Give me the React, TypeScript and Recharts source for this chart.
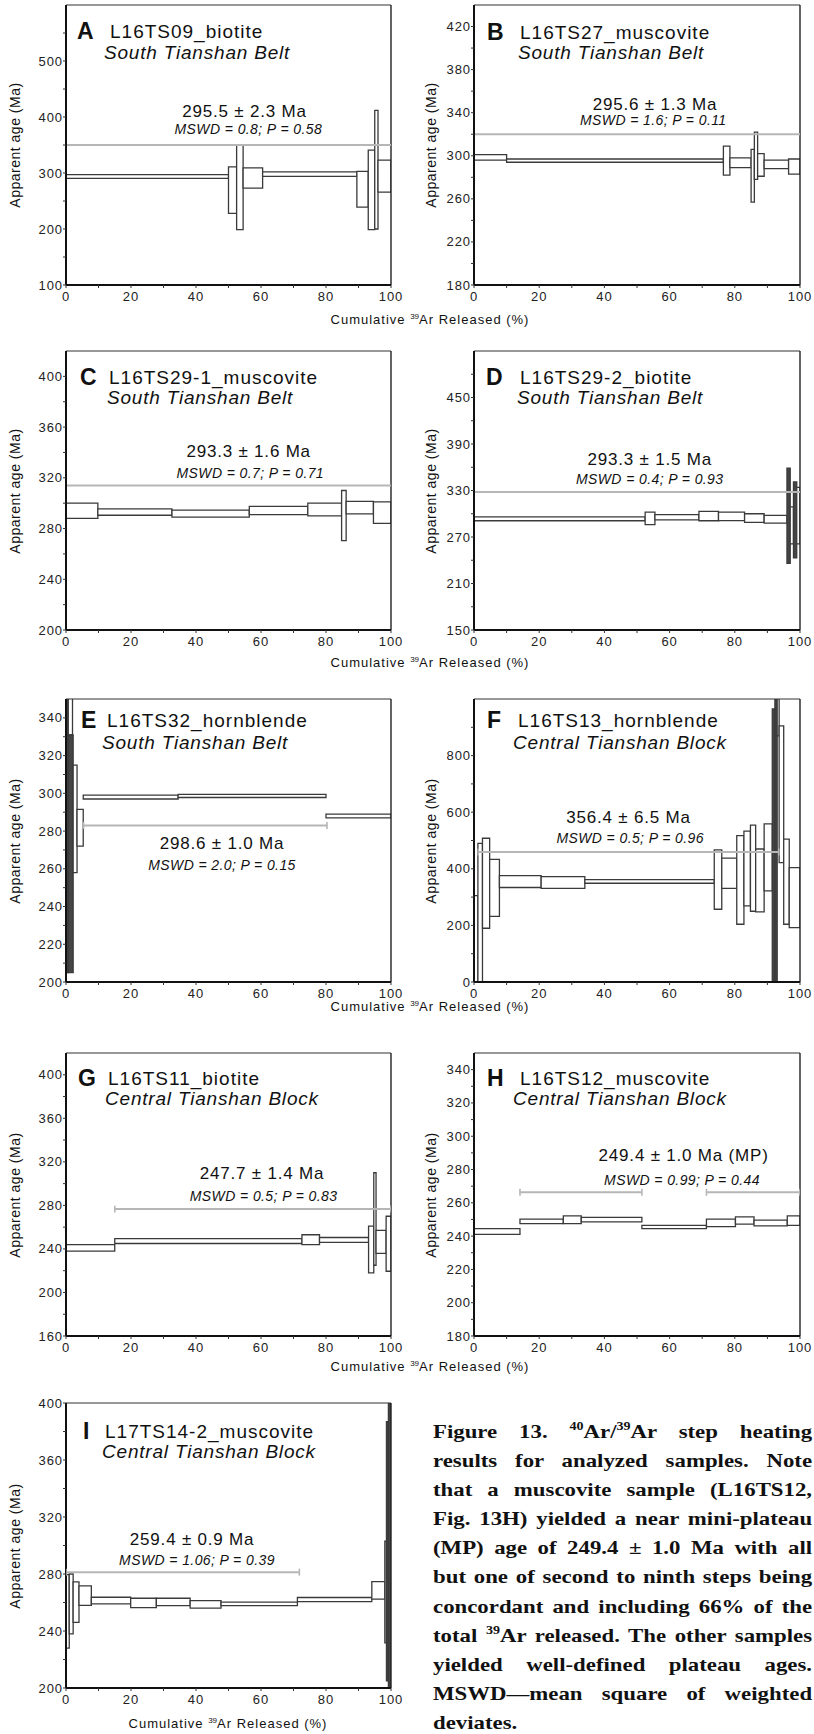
import React from "react";
import { ComposedChart, Line, ReferenceArea, ReferenceDot, ReferenceLine, XAxis, YAxis } from "recharts";

const FONT = '"Liberation Sans", Arial, Helvetica, sans-serif';
const SERIF = '"Liberation Serif", "Times New Roman", serif';

// [from %, to %, low age, high age]
type Step = [number, number, number, number];
type Pt = { pct: number; age: number };

const xTicks = [0, 10, 20, 30, 40, 50, 60, 70, 80, 90, 100];
const xLabelled = [0, 20, 40, 60, 80, 100];

const stepsA: Step[] = [
  [0, 50, 290.5, 297], [50, 52.5, 228, 311], [52.5, 54.5, 199, 350], [54.5, 60.5, 273, 309],
  [60.5, 89.5, 294, 302], [89.5, 93, 239, 303], [93, 95, 199, 341], [95, 96, 200, 412], [96, 100, 266, 323],
];
const plateauA: Pt[] = [{ pct: 0, age: 350 }, { pct: 100, age: 350 }];
const yMajorA = [100, 200, 300, 400, 500];
const yMinorA = [150, 250, 350, 450, 550];

const stepsB: Step[] = [
  [0, 10, 296, 301], [10, 76.5, 294, 297], [76.5, 78.5, 282, 309], [78.5, 85, 289, 298],
  [85, 86, 257, 306], [86, 87, 278, 322], [87, 89, 281, 302], [89, 96.5, 288, 296], [96.5, 100, 283, 297],
];
const plateauB: Pt[] = [{ pct: 0, age: 320 }, { pct: 100, age: 320 }];
const yMajorB = [180, 220, 260, 300, 340, 380, 420];
const yMinorB = [200, 240, 280, 320, 360, 400];

const stepsC: Step[] = [
  [0, 9.8, 288, 300], [9.8, 32.6, 290.5, 295.5], [32.6, 56.4, 289, 294.5], [56.4, 74.4, 291, 297.5],
  [74.4, 84.8, 290, 300], [84.8, 86.2, 270.5, 310], [86.2, 94.6, 291.5, 301.5], [94.6, 100, 284, 301],
];
const plateauC: Pt[] = [{ pct: 0, age: 314 }, { pct: 100, age: 314 }];
const yMajorC = [200, 240, 280, 320, 360, 400];
const yMinorC = [220, 260, 300, 340, 380];

const stepsD: Step[] = [
  [0, 52.5, 291, 296], [52.5, 55.5, 286, 302], [55.5, 69, 292, 299], [69, 75, 291, 303],
  [75, 83, 291, 302], [83, 89, 289, 300], [89, 96, 288, 298], [96, 97, 236, 359],
  [97, 98, 261, 309], [98, 99, 243, 341], [99, 100, 261, 334],
];
const plateauD: Pt[] = [{ pct: 0, age: 328 }, { pct: 100, age: 328 }];
const yMajorD = [150, 210, 270, 330, 390, 450];
const yMinorD = [180, 240, 300, 360, 420, 480];

const stepsE: Step[] = [
  [0, 0.7, 205, 360], [0.7, 2.0, 331, 360], [0.7, 2.2, 205, 331], [2.2, 3.4, 258, 315],
  [3.4, 5.3, 272, 291.5], [5.3, 34.5, 297, 299], [34.5, 80, 297.8, 299.4], [80, 100, 287, 289],
];
const plateauE: Pt[] = [{ pct: 5.4, age: 283 }, { pct: 80.3, age: 283 }];
const yMajorE = [200, 220, 240, 260, 280, 300, 320, 340];
const yMinorE = [210, 230, 250, 270, 290, 310, 330];

const stepsF: Step[] = [
  [0, 1.2, -30, 305], [1.2, 2.6, -30, 490], [2.6, 4.8, 190, 508], [4.8, 7.8, 232, 433],
  [7.8, 20.6, 334, 376], [20.6, 34, 331, 372], [34, 73.7, 349, 362], [73.7, 76, 257, 467],
  [76, 80.6, 331, 438], [80.6, 82.8, 204, 517], [82.8, 84.8, 269, 533], [84.8, 86.4, 250, 554],
  [86.4, 89, 248, 470], [89, 91.5, 322, 559], [91.5, 92.3, -30, 965], [92.3, 93.0, -30, 1050],
  [93.0, 93.6, 870, 1050], [93.6, 95.0, 422, 905], [95.0, 96.7, 204, 505], [96.7, 100, 192, 404],
];
const plateauF: Pt[] = [{ pct: 1.3, age: 459 }, { pct: 93.5, age: 459 }];
const yMajorF = [0, 200, 400, 600, 800];
const yMinorF = [100, 300, 500, 700, 900];

const stepsG: Step[] = [
  [0, 15, 238, 244], [15, 72.6, 245, 249.5], [72.6, 78, 244, 253], [78, 93.1, 246, 250.5],
  [93.1, 94.7, 218, 261], [94.7, 95.4, 225, 310], [95.4, 98.5, 236, 257], [98.5, 100, 219.5, 270],
];
const plateauG: Pt[] = [{ pct: 15, age: 276.6 }, { pct: 100, age: 276.6 }];
const yMajorG = [160, 200, 240, 280, 320, 360, 400];
const yMinorG = [180, 220, 260, 300, 340, 380];

const stepsH: Step[] = [
  [0, 14.1, 241, 244.5], [14.1, 27.4, 247.5, 250.2], [27.4, 32.9, 247.5, 252.2], [32.9, 51.5, 248.6, 251.2],
  [51.5, 71.3, 244.5, 246.5], [71.3, 80.2, 245.7, 250.2], [80.2, 85.9, 247.2, 251.6], [85.9, 96.1, 246.1, 249.6],
  [96.1, 100, 246.5, 252.2],
];
const plateauH1: Pt[] = [{ pct: 14.1, age: 266.3 }, { pct: 51.5, age: 266.3 }];
const plateauH2: Pt[] = [{ pct: 71.3, age: 266.3 }, { pct: 100, age: 266.3 }];
const yMajorH = [180, 200, 220, 240, 260, 280, 300, 320, 340];
const yMinorH = [190, 210, 230, 250, 270, 290, 310, 330];

const stepsI: Step[] = [
  [0, 1.0, 228, 279.5], [1.0, 2.2, 238, 280], [2.2, 4.0, 246, 274.5], [4.0, 7.8, 258, 271.7],
  [7.8, 19.9, 259, 263.7], [19.9, 27.8, 256.4, 263], [27.8, 38.2, 257.8, 263], [38.2, 47.7, 256, 261.3],
  [47.7, 71.2, 257.8, 260.2], [71.2, 94.1, 260.6, 263.5], [94.1, 98.1, 262.3, 274.7], [98.1, 98.6, 231.7, 303],
  [98.6, 99.2, 205, 387], [99.2, 100, 195, 410],
];
const plateauI: Pt[] = [{ pct: 0, age: 281.3 }, { pct: 71.8, age: 281.3 }];
const yMajorI = [200, 240, 280, 320, 360, 400];
const yMinorI = [220, 260, 300, 340, 380];

type Panel = {
  letter: string; sample: string; region: string; ageText: string; mswdText: string;
  steps: Step[]; plateaus: Pt[][]; yDomain: [number, number]; yMajor: number[]; yMinor: number[];
  dark: number[]; caps: boolean; col: 0 | 1; row: number;
  ageAt: [number, number]; mswdAt: [number, number];
  title: { lx: number; nx: number; rx: number; y1: number; y2: number };
};

const SOUTH = "South Tianshan Belt";
const CENTRAL = "Central Tianshan Block";

const panels: Panel[] = [
  { letter: "A", sample: "L16TS09_biotite", region: SOUTH, ageText: "295.5 ± 2.3 Ma", mswdText: "MSWD = 0.8; P = 0.58",
    steps: stepsA, plateaus: [plateauA], yDomain: [100, 600], yMajor: yMajorA, yMinor: yMinorA, dark: [], caps: false,
    col: 0, row: 0, ageAt: [54.9, 410], mswdAt: [56.1, 378], title: { lx: 11, nx: 44, rx: 38, y1: 26, y2: 48 } },
  { letter: "B", sample: "L16TS27_muscovite", region: SOUTH, ageText: "295.6 ± 1.3 Ma", mswdText: "MSWD = 1.6; P = 0.11",
    steps: stepsB, plateaus: [plateauB], yDomain: [180, 440], yMajor: yMajorB, yMinor: yMinorB, dark: [], caps: false,
    col: 1, row: 0, ageAt: [55.5, 348], mswdAt: [55, 333.6], title: { lx: 13, nx: 46, rx: 44, y1: 27, y2: 48 } },
  { letter: "C", sample: "L16TS29-1_muscovite", region: SOUTH, ageText: "293.3 ± 1.6 Ma", mswdText: "MSWD = 0.7; P = 0.71",
    steps: stepsC, plateaus: [plateauC], yDomain: [200, 420], yMajor: yMajorC, yMinor: yMinorC, dark: [], caps: false,
    col: 0, row: 1, ageAt: [56.2, 340.6], mswdAt: [56.7, 324], title: { lx: 14, nx: 43, rx: 41, y1: 26, y2: 47 } },
  { letter: "D", sample: "L16TS29-2_biotite", region: SOUTH, ageText: "293.3 ± 1.5 Ma", mswdText: "MSWD = 0.4; P = 0.93",
    steps: stepsD, plateaus: [plateauD], yDomain: [150, 510], yMajor: yMajorD, yMinor: yMinorD, dark: [7, 9], caps: false,
    col: 1, row: 1, ageAt: [53.9, 370], mswdAt: [53.9, 345], title: { lx: 12, nx: 46, rx: 43, y1: 26, y2: 47 } },
  { letter: "E", sample: "L16TS32_hornblende", region: SOUTH, ageText: "298.6 ± 1.0 Ma", mswdText: "MSWD = 2.0; P = 0.15",
    steps: stepsE, plateaus: [plateauE], yDomain: [200, 350], yMajor: yMajorE, yMinor: yMinorE, dark: [0, 2], caps: true,
    col: 0, row: 2, ageAt: [48, 273.2], mswdAt: [48, 262], title: { lx: 15, nx: 41, rx: 36, y1: 21, y2: 44 } },
  { letter: "F", sample: "L16TS13_hornblende", region: CENTRAL, ageText: "356.4 ± 6.5 Ma", mswdText: "MSWD = 0.5; P = 0.96",
    steps: stepsF, plateaus: [plateauF], yDomain: [0, 1000], yMajor: yMajorF, yMinor: yMinorF, dark: [14, 15], caps: true,
    col: 1, row: 2, ageAt: [47.4, 580], mswdAt: [47.9, 509], title: { lx: 13, nx: 44, rx: 39, y1: 21, y2: 44 } },
  { letter: "G", sample: "L16TS11_biotite", region: CENTRAL, ageText: "247.7 ± 1.4 Ma", mswdText: "MSWD = 0.5; P = 0.83",
    steps: stepsG, plateaus: [plateauG], yDomain: [160, 420], yMajor: yMajorG, yMinor: yMinorG, dark: [], caps: true,
    col: 0, row: 3, ageAt: [60.3, 309.3], mswdAt: [60.8, 289], title: { lx: 12, nx: 42, rx: 39, y1: 25, y2: 46 } },
  { letter: "H", sample: "L16TS12_muscovite", region: CENTRAL, ageText: "249.4 ± 1.0 Ma (MP)", mswdText: "MSWD = 0.99; P = 0.44",
    steps: stepsH, plateaus: [plateauH1, plateauH2], yDomain: [180, 350], yMajor: yMajorH, yMinor: yMinorH, dark: [], caps: true,
    col: 1, row: 3, ageAt: [64.3, 288.2], mswdAt: [63.8, 273.9], title: { lx: 13, nx: 46, rx: 39, y1: 25, y2: 46 } },
  { letter: "I", sample: "L17TS14-2_muscovite", region: CENTRAL, ageText: "259.4 ± 0.9 Ma", mswdText: "MSWD = 1.06; P = 0.39",
    steps: stepsI, plateaus: [plateauI], yDomain: [200, 400], yMajor: yMajorI, yMinor: yMinorI, dark: [12, 13], caps: true,
    col: 0, row: 4, ageAt: [38.8, 304.1], mswdAt: [40.3, 290], title: { lx: 17, nx: 39, rx: 36, y1: 28, y2: 49 } },
];

const rowTop = [5, 351, 699, 1053, 1403];
const rowHeight = [280, 279, 283, 283, 285];
const xLabelY = [320, 663, 1007, 1367, 1724];

const BOX = "#3a3a3a";
const PLATEAU = "#b6b6b6";
const M_TOP = 10;

function XTick(props: any) {
  const { x, y, payload } = props;
  if (!xLabelled.includes(payload.value)) return <g />;
  return (
    <text x={x} y={y + 7} textAnchor="middle" dominantBaseline="central" fontFamily={FONT} fontSize={13} letterSpacing={0.9} fill="#222">
      {payload.value}
    </text>
  );
}

function YTick(props: any) {
  const { x, y, payload, majors } = props;
  if (!majors.includes(payload.value)) return <g />;
  return (
    <text x={x + 1} y={y} textAnchor="end" dominantBaseline="central" fontFamily={FONT} fontSize={13} letterSpacing={0.9} fill="#222">
      {payload.value}
    </text>
  );
}

function PlotText(props: any) {
  const { viewBox, text, size, italic, spacing } = props;
  if (!viewBox) return null;
  return (
    <text x={viewBox.x} y={viewBox.y} textAnchor="middle" dominantBaseline="central" fontFamily={FONT} fontSize={size}
      fontStyle={italic ? "italic" : "normal"} letterSpacing={spacing} fill="#111">
      {text}
    </text>
  );
}

const renderCap = (props: any) => {
  const { cx, cy, index } = props;
  if (cx == null || cy == null) return <g key={`c${index}`} />;
  return <line key={`c${index}`} x1={cx} x2={cx} y1={cy - 3.5} y2={cy + 3.5} stroke={PLATEAU} strokeWidth={1.6} />;
};

function SpectrumPanel({ p }: { p: Panel }) {
  const left = p.col === 0 ? 0 : 408;
  const width = p.col === 0 ? 414 : 406;
  const mRight = p.col === 0 ? 23 : 14;
  const plotLeft = left + 66;
  const plotTop = rowTop[p.row];
  const plotH = rowHeight[p.row];
  const height = M_TOP + plotH + 24;
  const ticks = [...p.yMajor, ...p.yMinor].sort((a, b) => a - b);
  const t = p.title;
  return (
    <>
      <div style={{ position: "absolute", left, top: plotTop - M_TOP, width, height }}>
        <ComposedChart width={width} height={height} margin={{ top: M_TOP, right: mRight, bottom: 0, left: 0 }}>
          <XAxis type="number" dataKey="pct" domain={[0, 100]} ticks={xTicks} interval={0} allowDataOverflow
            height={24} tickSize={3} tickMargin={1} axisLine={{ stroke: "#111", strokeWidth: 2 }}
            tickLine={{ stroke: "#333" }} tick={<XTick />} />
          <YAxis type="number" domain={p.yDomain} ticks={ticks} interval={0} allowDataOverflow width={66}
            tickSize={3} tickMargin={1} axisLine={{ stroke: "#111", strokeWidth: 2 }}
            tickLine={{ stroke: "#333" }} tick={<YTick majors={p.yMajor} />} />
          {p.steps.map(([x0, x1, lo, hi], i) => (
            <ReferenceArea key={i} x1={x0} x2={x1} y1={lo} y2={hi} ifOverflow="hidden"
              fill={p.dark.includes(i) ? "#454545" : "#ffffff"} fillOpacity={1} stroke={BOX} strokeWidth={1.3} />
          ))}
          <ReferenceLine y={p.yDomain[1]} stroke="#333" strokeWidth={1.2} ifOverflow="visible" />
          <ReferenceLine x={100} stroke="#222" strokeWidth={1.4} ifOverflow="visible" />
          {p.plateaus.map((seg, i) => (
            <Line key={`p${i}`} data={seg} dataKey="age" type="linear" stroke={PLATEAU} strokeWidth={2}
              dot={p.caps ? renderCap : false} activeDot={false} isAnimationActive={false} />
          ))}
          <ReferenceDot x={p.ageAt[0]} y={p.ageAt[1]} r={0} fill="none" stroke="none"
            label={<PlotText text={p.ageText} size={17} spacing={0.8} />} />
          <ReferenceDot x={p.mswdAt[0]} y={p.mswdAt[1]} r={0} fill="none" stroke="none"
            label={<PlotText text={p.mswdText} size={14} italic spacing={0.4} />} />
        </ComposedChart>
      </div>
      <div style={{ position: "absolute", left: plotLeft + t.lx, top: plotTop + t.y1 - 14, fontSize: 23, fontWeight: 700, lineHeight: "28px" }}>
        {p.letter}
      </div>
      <div style={{ position: "absolute", left: plotLeft + t.nx, top: plotTop + t.y1 - 13, fontSize: 19, letterSpacing: 1, lineHeight: "28px", whiteSpace: "nowrap" }}>
        {p.sample}
      </div>
      <div style={{ position: "absolute", left: plotLeft + t.rx, top: plotTop + t.y2 - 14, fontSize: 19, fontStyle: "italic", letterSpacing: 0.8, lineHeight: "28px", whiteSpace: "nowrap" }}>
        {p.region}
      </div>
      <div style={{ position: "absolute", left: (p.col === 0 ? 15 : 431) - 110, top: plotTop + plotH / 2 - 10, width: 220, height: 20,
        lineHeight: "20px", textAlign: "center", fontSize: 14, letterSpacing: 0.5, transform: "rotate(-90deg)", whiteSpace: "nowrap" }}>
        Apparent age (Ma)
      </div>
    </>
  );
}

function XLabel({ cx, cy }: { cx: number; cy: number }) {
  return (
    <div style={{ position: "absolute", left: cx - 150, top: cy - 10, width: 300, height: 20, lineHeight: "20px",
      textAlign: "center", fontSize: 13, letterSpacing: 1, whiteSpace: "nowrap" }}>
      Cumulative <span style={{ fontSize: 8, position: "relative", top: -5, letterSpacing: 0 }}>39</span>Ar Released (%)
    </div>
  );
}

const sup = (s: string) => <span style={{ fontSize: 12, position: "relative", top: -8 }}>{s}</span>;

const captionLines: React.ReactNode[] = [
  <>Figure 13. {sup("40")}Ar/{sup("39")}Ar step heating</>,
  "results for analyzed samples. Note",
  "that a muscovite sample (L16TS12,",
  "Fig. 13H) yielded a near mini-plateau",
  "(MP) age of 249.4 ± 1.0 Ma with all",
  "but one of second to ninth steps being",
  "concordant and including 66% of the",
  <>total {sup("39")}Ar released. The other samples</>,
  "yielded well-defined plateau ages.",
  "MSWD—mean square of weighted",
  "deviates.",
];

function Caption() {
  return (
    <div style={{ position: "absolute", left: 433, top: 1417, width: 324, transform: "scaleX(1.17)", transformOrigin: "left top",
      fontFamily: SERIF, fontWeight: 700, fontSize: 19.5, lineHeight: "29.1px", color: "#111" }}>
      {captionLines.map((line, i) => (
        <div key={i} style={{ textAlign: "justify", textAlignLast: i === captionLines.length - 1 ? "left" : "justify", height: 29.1 }}>
          {line}
        </div>
      ))}
    </div>
  );
}

export default function App() {
  return (
    <div style={{ position: "absolute", left: 0, top: 0, width: 814, height: 1734, background: "#fff", overflow: "hidden",
      fontFamily: FONT, color: "#111" }}>
      {panels.map((p) => <SpectrumPanel key={p.letter} p={p} />)}
      {[0, 1, 2, 3].map((r) => <XLabel key={r} cx={430} cy={xLabelY[r]} />)}
      <XLabel cx={228} cy={xLabelY[4]} />
      <Caption />
    </div>
  );
}
